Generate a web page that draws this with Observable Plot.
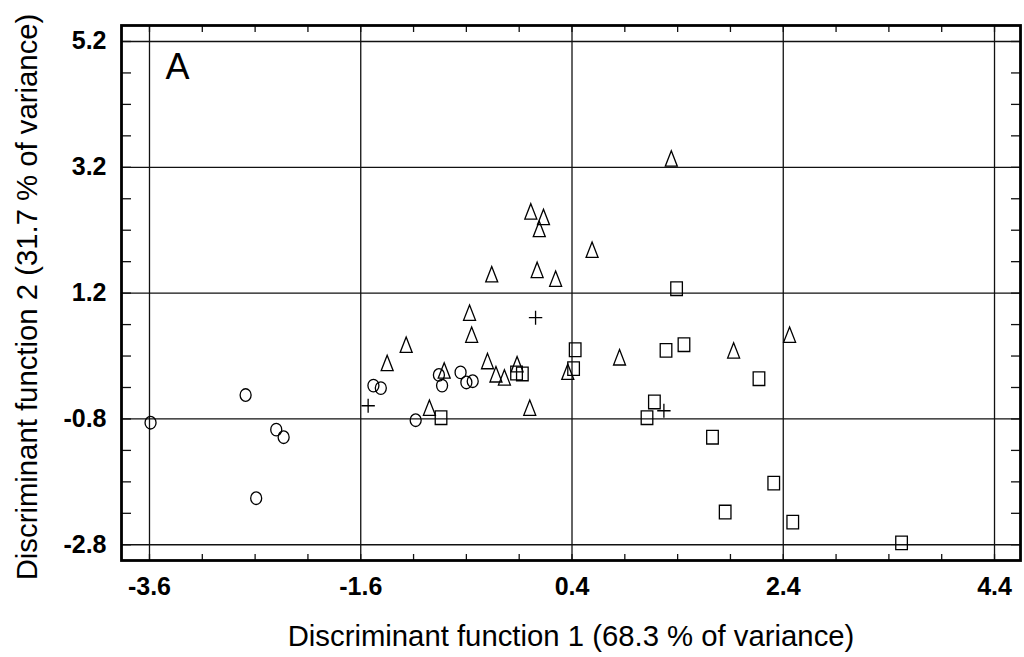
<!DOCTYPE html>
<html>
<head>
<meta charset="utf-8">
<script src="https://cdn.jsdelivr.net/npm/d3@7"></script>
<script src="https://cdn.jsdelivr.net/npm/@observablehq/plot@0.6"></script>
<style>
  html, body { margin: 0; padding: 0; background: #fff; }
  #chart svg { display: block; }
</style>
</head>
<body>
<div id="chart"></div>
<script>
// Discriminant scores per group (function 1, function 2)
const circleX = [-3.59, -2.69, -2.40, -2.33, -2.59, -1.48, -1.41, -0.86, -0.83, -0.655, -0.60, -0.54, -1.08];
const circleY = [-0.86, -0.42, -0.97, -1.09, -2.06, -0.27, -0.31, -0.10, -0.27, -0.06, -0.22, -0.20, -0.82];

const triangleX = [0.01, 0.13, 0.09, 0.59, -0.36, 0.07, 0.245, -0.57, -0.55, -1.17, -1.35, -0.81, -0.40, -0.32, -0.24, -0.12, 0.36, 0.85, -0.95, 0.00, 1.34, 1.93, 2.46];
const triangleY = [2.50, 2.41, 2.22, 1.89, 1.50, 1.57, 1.43, 0.89, 0.54, 0.38, 0.09, -0.03, 0.12, -0.09, -0.14, 0.07, -0.05, 0.18, -0.62, -0.62, 3.34, 0.29, 0.54];

const squareX = [1.39, 1.46, 1.29, 0.43, 0.415, -0.125, -0.07, -0.84, 1.18, 1.11, 2.17, 1.73, 2.31, 1.85, 2.49, 3.52];
const squareY = [1.27, 0.38, 0.29, 0.30, 0.00, -0.07, -0.085, -0.78, -0.53, -0.78, -0.16, -1.09, -1.82, -2.28, -2.44, -2.77];

const crossX = [0.055, 1.27, -1.53];
const crossY = [0.81, -0.67, -0.59];

// Axis ticks
const xTicks = [-3.6, -1.6, 0.4, 2.4, 4.4];
const yTicks = [5.2, 3.2, 1.2, -0.8, -2.8];
const xMinor = [-3.6, -3.1, -2.6, -2.1, -1.6, -1.1, -0.6, -0.1, 0.4, 0.9, 1.4, 1.9, 2.4, 2.9, 3.4, 3.9, 4.4];
const yMinor = [5.2, 4.7, 4.2, 3.7, 3.2, 2.7, 2.2, 1.7, 1.2, 0.7, 0.2, -0.3, -0.8, -1.3, -1.8, -2.3, -2.8];

const xTitle = "Discriminant function 1 (68.3 % of variance)";
const yTitle = "Discriminant function 2 (31.7 % of variance)";
const panelLabel = "A";

// Hollow marker shapes, slightly taller than wide
const ellipseSymbol = {
  draw(ctx) {
    const rx = 5.5, ry = 6.3, k = 0.5523;
    ctx.moveTo(rx, 0);
    ctx.bezierCurveTo(rx, ry * k, rx * k, ry, 0, ry);
    ctx.bezierCurveTo(-rx * k, ry, -rx, ry * k, -rx, 0);
    ctx.bezierCurveTo(-rx, -ry * k, -rx * k, -ry, 0, -ry);
    ctx.bezierCurveTo(rx * k, -ry, rx, -ry * k, rx, 0);
    ctx.closePath();
  }
};
const triangleSymbol = {
  draw(ctx) {
    const w = 6, h = 7.7;
    ctx.moveTo(0, -h);
    ctx.lineTo(w, h);
    ctx.lineTo(-w, h);
    ctx.closePath();
  }
};
const squareSymbol = {
  draw(ctx) {
    const w = 5.8, h = 6.8;
    ctx.moveTo(-w, -h);
    ctx.lineTo(w, -h);
    ctx.lineTo(w, h);
    ctx.lineTo(-w, h);
    ctx.closePath();
  }
};
const plusSymbol = {
  draw(ctx) {
    const w = 6.7, h = 7;
    ctx.moveTo(-w, 0);
    ctx.lineTo(w, 0);
    ctx.moveTo(0, -h);
    ctx.lineTo(0, h);
  }
};

const toRows = (xs, ys, group) => xs.map((x, i) => ({x, y: ys[i], group}));
const groups = [
  {rows: toRows(circleX, circleY, "circle"), symbol: ellipseSymbol},
  {rows: toRows(triangleX, triangleY, "triangle"), symbol: triangleSymbol},
  {rows: toRows(squareX, squareY, "square"), symbol: squareSymbol},
  {rows: toRows(crossX, crossY, "cross"), symbol: plusSymbol}
];

const fmt = d => d.toFixed(1);
const ink = "#111";

const chart = Plot.plot({
  width: 1024,
  height: 657,
  marginLeft: 121,
  marginRight: 4,
  marginTop: 25,
  marginBottom: 97,
  style: {fontFamily: "'Liberation Sans', Arial, sans-serif", background: "#fff", color: "#000"},
  x: {domain: [-3.865, 4.646], axis: null},
  y: {domain: [-3.05, 5.454], axis: null},
  marks: [
    Plot.gridX(xTicks, {stroke: ink, strokeOpacity: 1, strokeWidth: 1.3}),
    Plot.gridY(yTicks, {stroke: ink, strokeOpacity: 1, strokeWidth: 1.3}),
    // inward minor ticks on all four sides
    Plot.axisX(xMinor, {anchor: "bottom", tickSize: -6, fill: "none", label: null, stroke: ink, strokeWidth: 1.3}),
    Plot.axisX(xMinor, {anchor: "top", tickSize: -6, fill: "none", label: null, stroke: ink, strokeWidth: 1.3}),
    Plot.axisY(yMinor, {anchor: "left", tickSize: -10, fill: "none", label: null, stroke: ink, strokeWidth: 1.3}),
    Plot.axisY(yMinor, {anchor: "right", tickSize: -10, fill: "none", label: null, stroke: ink, strokeWidth: 1.3}),
    // tick labels
    Plot.axisX(xTicks, {anchor: "bottom", tickSize: 0, tickPadding: 17, tickFormat: fmt, label: null, fontSize: 25, fontWeight: "bold", fill: "#000"}),
    Plot.axisY(yTicks, {anchor: "left", tickSize: 0, tickPadding: 15, tickFormat: fmt, label: null, fontSize: 25, fontWeight: "bold", fill: "#000"}),
    // data
    ...groups.map(g => Plot.dot(g.rows, {x: "x", y: "y", symbol: g.symbol, r: 6, fill: "none", stroke: "#000", strokeWidth: 1.3})),
    // titles
    Plot.text([xTitle], {text: d => d, frameAnchor: "bottom", dy: 76, lineAnchor: "middle", fontSize: 29.3, fill: "#000"}),
    Plot.text([yTitle], {text: d => d, frameAnchor: "left", dx: -94, dy: 4, rotate: -90, textAnchor: "middle", lineAnchor: "middle", fontSize: 29.3, fill: "#000"}),
    Plot.text([panelLabel], {text: d => d, frameAnchor: "top-left", dx: 44, dy: 28, lineAnchor: "top", textAnchor: "start", fontSize: 36, fill: "#000"}),
    Plot.frame({stroke: "#000", strokeWidth: 2.8})
  ]
});

document.getElementById("chart").appendChild(chart);
</script>
</body>
</html>
